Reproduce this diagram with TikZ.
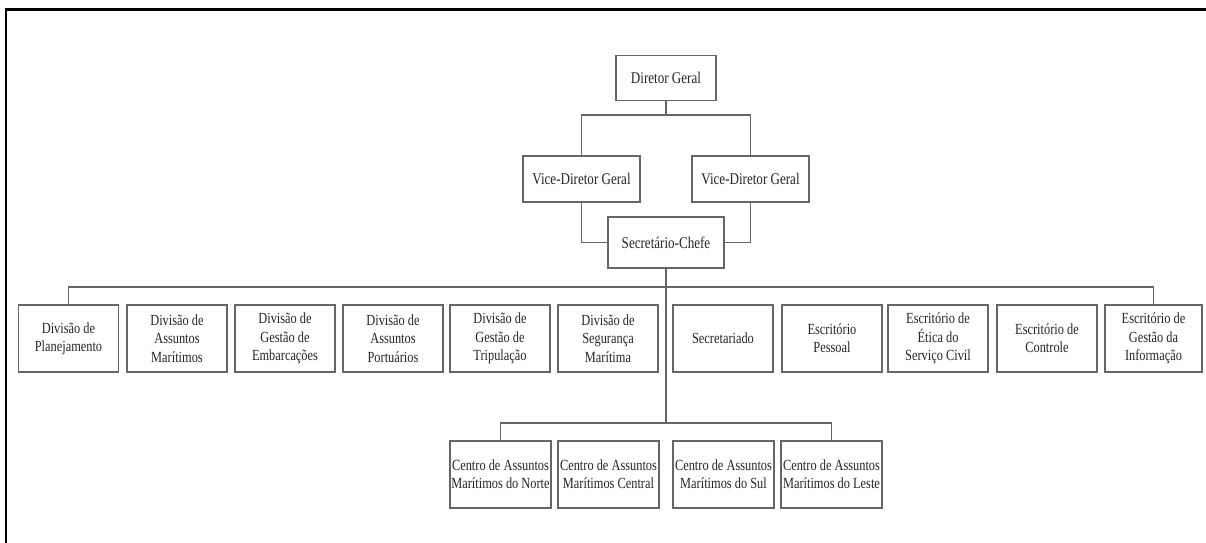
\documentclass[tikz,border=0pt]{standalone}
\usepackage{fontspec}
\setmainfont[FakeStretch=0.8]{Liberation Serif}
\usepackage{tikz}

\begin{document}
\begin{tikzpicture}[x=0.02cm, y=-0.02cm,
		linha/.style={line width=0.8pt, color=black!60},
		caixa/.style={draw=black!60, line width=0.8pt, fill=white, text=black!85, align=center, inner sep=0pt, minimum width=2cm, minimum height=1.34cm, font=\fontsize{8.8}{10.4}\selectfont},
		topo/.style={caixa, font=\fontsize{9.3}{10.4}\selectfont}]
		%%%%% START %%%%%
		
		\useasboundingbox (0, 0) rectangle (1206, 543);
		\draw[line width=1.7pt] (6, 543) -- (6, 9.5) -- (1206, 9.5);
		
		% direcao
		\node[topo, minimum width=2cm, minimum height=0.9cm] (dg) at (666, 78) {Diretor Geral};
		\node[topo, minimum width=2.34cm, minimum height=0.92cm] (vdl) at (581.5, 179) {Vice-Diretor Geral};
		\node[topo, minimum width=2.34cm, minimum height=0.92cm] (vdr) at (750.5, 179) {Vice-Diretor Geral};
		\node[topo, minimum width=2.32cm, minimum height=1.02cm] (sc) at (666, 242.5) {Secretário-Chefe};
		
		\coordinate (g1) at (666, 115);
		\draw[linha] (dg.south) -- (g1);
		\draw[linha] (vdl.north) |- (g1) -| (vdr.north);
		\draw[linha] (vdl.south) |- (sc.west);
		\draw[linha] (vdr.south) |- (sc.east);
		
		% divisoes e escritorios
		\node[caixa] (d1) at (68.5, 338.5) {Divisão de\\Planejamento};
		\node[caixa] (d2) at (177, 338.5) {Divisão de\\Assuntos\\Marítimos};
		\node[caixa] (d3) at (285, 338.5) {Divisão de\\Gestão de\\Embarcações};
		\node[caixa] (d4) at (393, 338.5) {Divisão de\\Assuntos\\Portuários};
		\node[caixa] (d5) at (500, 338.5) {Divisão de\\Gestão de\\Tripulação};
		\node[caixa] (d6) at (608, 338.5) {Divisão de\\Segurança\\Marítima};
		\node[caixa] (d7) at (723, 338.5) {Secretariado};
		\node[caixa] (d8) at (832, 338.5) {Escritório\\Pessoal};
		\node[caixa] (d9) at (938, 338.5) {Escritório de\\Ética do\\Serviço Civil};
		\node[caixa] (d10) at (1047, 338.5) {Escritório de\\Controle};
		\node[caixa, minimum width=1.94cm] (d11) at (1153.5, 338.5) {Escritório de\\Gestão da\\Informação};
		
		\coordinate (g2) at (666, 287);
		\coordinate (g3) at (666, 423);
		\draw[linha] (sc.south) -- (g3);
		\draw[linha] (d1.north) |- (g2) -| (d11.north);
		
		% centros regionais
		\node[caixa, minimum width=2.02cm] (c1) at (500.5, 474.5) {Centro de Assuntos\\Marítimos do Norte};
		\node[caixa, minimum width=2.02cm] (c2) at (608.5, 474.5) {Centro de Assuntos\\Marítimos Central};
		\node[caixa, minimum width=2.02cm] (c3) at (723.5, 474.5) {Centro de Assuntos\\Marítimos do Sul};
		\node[caixa, minimum width=2.02cm] (c4) at (831.5, 474.5) {Centro de Assuntos\\Marítimos do Leste};
		
		\draw[linha] (c1.north) |- (g3) -| (c4.north);
		
		%%%%% END %%%%%
	\end{tikzpicture}
\end{document}
